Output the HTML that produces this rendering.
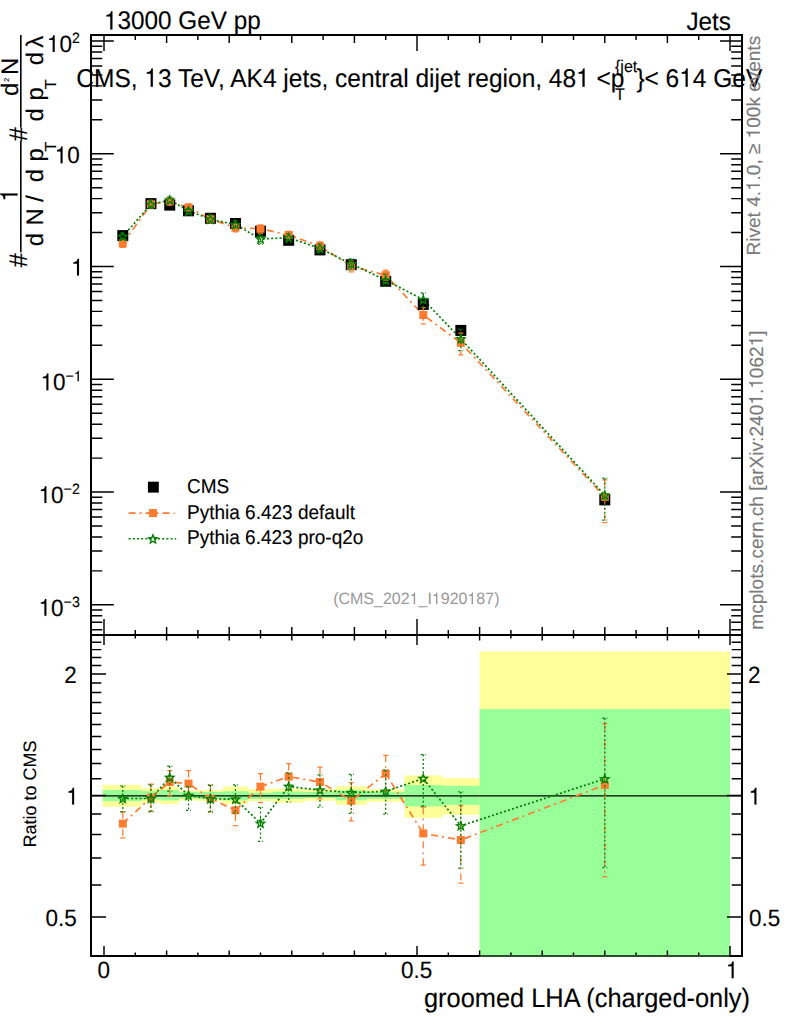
<!DOCTYPE html><html><head><meta charset="utf-8"><style>html,body{margin:0;padding:0;background:#fff;width:786px;height:1024px;overflow:hidden;position:relative}</style></head><body><svg width="786" height="1024" viewBox="0 0 786 1024" style="position:absolute;left:0;top:0" text-rendering="geometricPrecision">
<rect x="0" y="0" width="786" height="1024" fill="#fff"/>
<rect x="102.60" y="784.80" width="38.96" height="22.00" fill="#ffff99"/>
<rect x="141.56" y="788.20" width="18.78" height="14.50" fill="#ffff99"/>
<rect x="160.34" y="786.60" width="18.78" height="17.60" fill="#ffff99"/>
<rect x="179.12" y="790.50" width="18.78" height="9.90" fill="#ffff99"/>
<rect x="197.90" y="790.00" width="25.04" height="11.10" fill="#ffff99"/>
<rect x="222.94" y="786.60" width="25.04" height="17.60" fill="#ffff99"/>
<rect x="247.98" y="789.00" width="25.04" height="12.10" fill="#ffff99"/>
<rect x="273.02" y="788.50" width="31.30" height="14.10" fill="#ffff99"/>
<rect x="304.32" y="789.20" width="31.30" height="11.60" fill="#ffff99"/>
<rect x="335.62" y="786.10" width="31.30" height="18.80" fill="#ffff99"/>
<rect x="366.92" y="789.20" width="37.56" height="12.60" fill="#ffff99"/>
<rect x="404.48" y="775.40" width="37.56" height="42.50" fill="#ffff99"/>
<rect x="442.04" y="778.20" width="37.56" height="36.60" fill="#ffff99"/>
<rect x="479.60" y="651.60" width="250.40" height="304.40" fill="#ffff99"/>
<rect x="102.60" y="790.00" width="38.96" height="11.10" fill="#99ff99"/>
<rect x="141.56" y="791.20" width="18.78" height="8.40" fill="#99ff99"/>
<rect x="160.34" y="790.00" width="18.78" height="10.40" fill="#99ff99"/>
<rect x="179.12" y="792.00" width="18.78" height="6.50" fill="#99ff99"/>
<rect x="197.90" y="792.00" width="25.04" height="6.90" fill="#99ff99"/>
<rect x="222.94" y="791.20" width="25.04" height="9.20" fill="#99ff99"/>
<rect x="247.98" y="792.70" width="25.04" height="6.20" fill="#99ff99"/>
<rect x="273.02" y="791.60" width="31.30" height="7.20" fill="#99ff99"/>
<rect x="304.32" y="791.90" width="31.30" height="6.10" fill="#99ff99"/>
<rect x="335.62" y="790.40" width="31.30" height="9.90" fill="#99ff99"/>
<rect x="366.92" y="791.90" width="37.56" height="6.90" fill="#99ff99"/>
<rect x="404.48" y="785.00" width="37.56" height="21.40" fill="#99ff99"/>
<rect x="442.04" y="785.80" width="37.56" height="19.10" fill="#99ff99"/>
<rect x="479.60" y="709.00" width="250.40" height="247.00" fill="#99ff99"/>
<line x1="91.0" y1="795.9" x2="742.0" y2="795.9" stroke="#000" stroke-width="1.2"/>
<rect x="91.0" y="35.0" width="651.0" height="600.0" fill="none" stroke="#000" stroke-width="2"/>
<rect x="91.0" y="635.0" width="651.0" height="321.0" fill="none" stroke="#000" stroke-width="2"/>
<rect x="479.60" y="955" width="249.80" height="2" fill="#99ff99" fill-opacity="0.3"/>
<path d="M92.00 629.82L102.30 629.82M741.00 629.82L731.20 629.82M92.00 622.27L102.30 622.27M741.00 622.27L731.20 622.27M92.00 615.73L102.30 615.73M741.00 615.73L731.20 615.73M92.00 609.96L102.30 609.96M741.00 609.96L731.20 609.96M92.00 604.80L113.80 604.80M741.00 604.80L720.00 604.80M92.00 570.86L102.30 570.86M741.00 570.86L731.20 570.86M92.00 551.00L102.30 551.00M741.00 551.00L731.20 551.00M92.00 536.91L102.30 536.91M741.00 536.91L731.20 536.91M92.00 525.98L102.30 525.98M741.00 525.98L731.20 525.98M92.00 517.06L102.30 517.06M741.00 517.06L731.20 517.06M92.00 509.51L102.30 509.51M741.00 509.51L731.20 509.51M92.00 502.97L102.30 502.97M741.00 502.97L731.20 502.97M92.00 497.20L102.30 497.20M741.00 497.20L731.20 497.20M92.00 492.04L113.80 492.04M741.00 492.04L720.00 492.04M92.00 458.10L102.30 458.10M741.00 458.10L731.20 458.10M92.00 438.24L102.30 438.24M741.00 438.24L731.20 438.24M92.00 424.15L102.30 424.15M741.00 424.15L731.20 424.15M92.00 413.22L102.30 413.22M741.00 413.22L731.20 413.22M92.00 404.30L102.30 404.30M741.00 404.30L731.20 404.30M92.00 396.75L102.30 396.75M741.00 396.75L731.20 396.75M92.00 390.21L102.30 390.21M741.00 390.21L731.20 390.21M92.00 384.44L102.30 384.44M741.00 384.44L731.20 384.44M92.00 379.28L113.80 379.28M741.00 379.28L720.00 379.28M92.00 345.34L102.30 345.34M741.00 345.34L731.20 345.34M92.00 325.48L102.30 325.48M741.00 325.48L731.20 325.48M92.00 311.39L102.30 311.39M741.00 311.39L731.20 311.39M92.00 300.46L102.30 300.46M741.00 300.46L731.20 300.46M92.00 291.54L102.30 291.54M741.00 291.54L731.20 291.54M92.00 283.99L102.30 283.99M741.00 283.99L731.20 283.99M92.00 277.45L102.30 277.45M741.00 277.45L731.20 277.45M92.00 271.68L102.30 271.68M741.00 271.68L731.20 271.68M92.00 266.52L113.80 266.52M741.00 266.52L720.00 266.52M92.00 232.58L102.30 232.58M741.00 232.58L731.20 232.58M92.00 212.72L102.30 212.72M741.00 212.72L731.20 212.72M92.00 198.63L102.30 198.63M741.00 198.63L731.20 198.63M92.00 187.70L102.30 187.70M741.00 187.70L731.20 187.70M92.00 178.78L102.30 178.78M741.00 178.78L731.20 178.78M92.00 171.23L102.30 171.23M741.00 171.23L731.20 171.23M92.00 164.69L102.30 164.69M741.00 164.69L731.20 164.69M92.00 158.92L102.30 158.92M741.00 158.92L731.20 158.92M92.00 153.76L113.80 153.76M741.00 153.76L720.00 153.76M92.00 119.82L102.30 119.82M741.00 119.82L731.20 119.82M92.00 99.96L102.30 99.96M741.00 99.96L731.20 99.96M92.00 85.87L102.30 85.87M741.00 85.87L731.20 85.87M92.00 74.94L102.30 74.94M741.00 74.94L731.20 74.94M92.00 66.02L102.30 66.02M741.00 66.02L731.20 66.02M92.00 58.47L102.30 58.47M741.00 58.47L731.20 58.47M92.00 51.93L102.30 51.93M741.00 51.93L731.20 51.93M92.00 46.16L102.30 46.16M741.00 46.16L731.20 46.16M92.00 41.00L113.80 41.00M741.00 41.00L720.00 41.00M92.00 955.99L101.30 955.99M741.00 955.99L731.70 955.99M92.00 916.91L106.00 916.91M741.00 916.91L727.00 916.91M92.00 884.97L101.30 884.97M741.00 884.97L731.70 884.97M92.00 857.97L101.30 857.97M741.00 857.97L731.70 857.97M92.00 834.58L101.30 834.58M741.00 834.58L731.70 834.58M92.00 813.95L101.30 813.95M741.00 813.95L731.70 813.95M92.00 795.50L106.00 795.50M741.00 795.50L727.00 795.50M92.00 778.81L101.30 778.81M741.00 778.81L731.70 778.81M92.00 763.57L101.30 763.57M741.00 763.57L731.70 763.57M92.00 749.55L101.30 749.55M741.00 749.55L731.70 749.55M92.00 736.57L101.30 736.57M741.00 736.57L731.70 736.57M92.00 724.48L101.30 724.48M741.00 724.48L731.70 724.48M92.00 713.18L101.30 713.18M741.00 713.18L731.70 713.18M92.00 702.56L101.30 702.56M741.00 702.56L731.70 702.56M92.00 692.55L101.30 692.55M741.00 692.55L731.70 692.55M92.00 683.08L101.30 683.08M741.00 683.08L731.70 683.08M92.00 674.09L106.00 674.09M741.00 674.09L727.00 674.09M92.00 665.55L101.30 665.55M741.00 665.55L731.70 665.55M92.00 657.40L101.30 657.40M741.00 657.40L731.70 657.40M92.00 649.62L101.30 649.62M741.00 649.62L731.70 649.62M92.00 642.16L101.30 642.16M741.00 642.16L731.70 642.16M92.00 635.01L101.30 635.01M741.00 635.01L731.70 635.01M104.00 36.00L104.00 51.00M104.00 634.00L104.00 619.00M104.00 636.00L104.00 645.00M104.00 955.00L104.00 946.00M135.30 36.00L135.30 40.00M135.30 634.00L135.30 630.00M135.30 636.00L135.30 638.50M135.30 955.00L135.30 952.50M166.60 36.00L166.60 43.00M166.60 634.00L166.60 627.00M166.60 636.00L166.60 640.50M166.60 955.00L166.60 950.50M197.90 36.00L197.90 40.00M197.90 634.00L197.90 630.00M197.90 636.00L197.90 638.50M197.90 955.00L197.90 952.50M229.20 36.00L229.20 43.00M229.20 634.00L229.20 627.00M229.20 636.00L229.20 640.50M229.20 955.00L229.20 950.50M260.50 36.00L260.50 40.00M260.50 634.00L260.50 630.00M260.50 636.00L260.50 638.50M260.50 955.00L260.50 952.50M291.80 36.00L291.80 43.00M291.80 634.00L291.80 627.00M291.80 636.00L291.80 640.50M291.80 955.00L291.80 950.50M323.10 36.00L323.10 40.00M323.10 634.00L323.10 630.00M323.10 636.00L323.10 638.50M323.10 955.00L323.10 952.50M354.40 36.00L354.40 43.00M354.40 634.00L354.40 627.00M354.40 636.00L354.40 640.50M354.40 955.00L354.40 950.50M385.70 36.00L385.70 40.00M385.70 634.00L385.70 630.00M385.70 636.00L385.70 638.50M385.70 955.00L385.70 952.50M417.00 36.00L417.00 51.00M417.00 634.00L417.00 619.00M417.00 636.00L417.00 645.00M417.00 955.00L417.00 946.00M448.30 36.00L448.30 40.00M448.30 634.00L448.30 630.00M448.30 636.00L448.30 638.50M448.30 955.00L448.30 952.50M479.60 36.00L479.60 43.00M479.60 634.00L479.60 627.00M479.60 636.00L479.60 640.50M479.60 955.00L479.60 950.50M510.90 36.00L510.90 40.00M510.90 634.00L510.90 630.00M510.90 636.00L510.90 638.50M510.90 955.00L510.90 952.50M542.20 36.00L542.20 43.00M542.20 634.00L542.20 627.00M542.20 636.00L542.20 640.50M542.20 955.00L542.20 950.50M573.50 36.00L573.50 40.00M573.50 634.00L573.50 630.00M573.50 636.00L573.50 638.50M573.50 955.00L573.50 952.50M604.80 36.00L604.80 43.00M604.80 634.00L604.80 627.00M604.80 636.00L604.80 640.50M604.80 955.00L604.80 950.50M636.10 36.00L636.10 40.00M636.10 634.00L636.10 630.00M636.10 636.00L636.10 638.50M636.10 955.00L636.10 952.50M667.40 36.00L667.40 43.00M667.40 634.00L667.40 627.00M667.40 636.00L667.40 640.50M667.40 955.00L667.40 950.50M698.70 36.00L698.70 40.00M698.70 634.00L698.70 630.00M698.70 636.00L698.70 638.50M698.70 955.00L698.70 952.50M730.00 36.00L730.00 51.00M730.00 634.00L730.00 619.00M730.00 636.00L730.00 645.00M730.00 955.00L730.00 946.00" stroke="#000" stroke-width="1.45" fill="none"/>
<path d="M347 0V709H289C258 600 238 585 102 568V505H259V0Z" transform="translate(71.19,275.62) scale(0.02250,-0.02363)" fill="#000" stroke="#000" stroke-width="5.33"/>
<path d="M347 0V709H289C258 600 238 585 102 568V505H259V0Z" transform="translate(54.77,163.36) scale(0.02250,-0.02363)" fill="#000" stroke="#000" stroke-width="5.33"/>
<text transform="translate(67.29,163.36) scale(1,1.05)" font-family="&apos;Liberation Sans&apos;, sans-serif" font-size="22.5" stroke="#000" stroke-width="0.12">0</text>
<path d="M347 0V709H289C258 600 238 585 102 568V505H259V0Z" transform="translate(46.88,52.00) scale(0.02250,-0.02363)" fill="#000" stroke="#000" stroke-width="5.33"/>
<text transform="translate(59.39,52.00) scale(1,1.05)" font-family="&apos;Liberation Sans&apos;, sans-serif" font-size="22.5" stroke="#000" stroke-width="0.12">0</text>
<text transform="translate(71.90,43.00) scale(1,1.05)" font-family="&apos;Liberation Sans&apos;, sans-serif" font-size="14.2" stroke="#000" stroke-width="0.12">2</text>
<path d="M347 0V709H289C258 600 238 585 102 568V505H259V0Z" transform="translate(40.58,390.28) scale(0.02250,-0.02363)" fill="#000" stroke="#000" stroke-width="5.33"/>
<text transform="translate(53.10,390.28) scale(1,1.05)" font-family="&apos;Liberation Sans&apos;, sans-serif" font-size="22.5" stroke="#000" stroke-width="0.12">0</text>
<text transform="translate(65.61,381.28) scale(1,1.05)" font-family="&apos;Liberation Sans&apos;, sans-serif" font-size="14.2" stroke="#000" stroke-width="0.12">−</text>
<path d="M347 0V709H289C258 600 238 585 102 568V505H259V0Z" transform="translate(73.90,381.28) scale(0.01420,-0.01491)" fill="#000" stroke="#000" stroke-width="8.45"/>
<path d="M347 0V709H289C258 600 238 585 102 568V505H259V0Z" transform="translate(38.58,503.04) scale(0.02250,-0.02363)" fill="#000" stroke="#000" stroke-width="5.33"/>
<text transform="translate(51.10,503.04) scale(1,1.05)" font-family="&apos;Liberation Sans&apos;, sans-serif" font-size="22.5" stroke="#000" stroke-width="0.12">0</text>
<text transform="translate(63.61,494.04) scale(1,1.05)" font-family="&apos;Liberation Sans&apos;, sans-serif" font-size="14.2" stroke="#000" stroke-width="0.12">−</text>
<text transform="translate(71.90,494.04) scale(1,1.05)" font-family="&apos;Liberation Sans&apos;, sans-serif" font-size="14.2" stroke="#000" stroke-width="0.12">2</text>
<path d="M347 0V709H289C258 600 238 585 102 568V505H259V0Z" transform="translate(38.58,615.80) scale(0.02250,-0.02363)" fill="#000" stroke="#000" stroke-width="5.33"/>
<text transform="translate(51.10,615.80) scale(1,1.05)" font-family="&apos;Liberation Sans&apos;, sans-serif" font-size="22.5" stroke="#000" stroke-width="0.12">0</text>
<text transform="translate(63.61,606.80) scale(1,1.05)" font-family="&apos;Liberation Sans&apos;, sans-serif" font-size="14.2" stroke="#000" stroke-width="0.12">−</text>
<text transform="translate(71.90,606.80) scale(1,1.05)" font-family="&apos;Liberation Sans&apos;, sans-serif" font-size="14.2" stroke="#000" stroke-width="0.12">3</text>
<text transform="translate(64.29,683.19) scale(1,1.05)" font-family="&apos;Liberation Sans&apos;, sans-serif" font-size="22.5" stroke="#000" stroke-width="0.12">2</text>
<text transform="translate(748.10,683.19) scale(1,1.05)" font-family="&apos;Liberation Sans&apos;, sans-serif" font-size="22.5" stroke="#000" stroke-width="0.12">2</text>
<path d="M347 0V709H289C258 600 238 585 102 568V505H259V0Z" transform="translate(66.29,804.60) scale(0.02250,-0.02363)" fill="#000" stroke="#000" stroke-width="5.33"/>
<path d="M347 0V709H289C258 600 238 585 102 568V505H259V0Z" transform="translate(748.60,804.60) scale(0.02250,-0.02363)" fill="#000" stroke="#000" stroke-width="5.33"/>
<text transform="translate(45.52,926.01) scale(1,1.05)" font-family="&apos;Liberation Sans&apos;, sans-serif" font-size="22.5" stroke="#000" stroke-width="0.12">0</text>
<text transform="translate(58.04,926.01) scale(1,1.05)" font-family="&apos;Liberation Sans&apos;, sans-serif" font-size="22.5" stroke="#000" stroke-width="0.12">.</text>
<text transform="translate(64.29,926.01) scale(1,1.05)" font-family="&apos;Liberation Sans&apos;, sans-serif" font-size="22.5" stroke="#000" stroke-width="0.12">5</text>
<text transform="translate(749.10,926.01) scale(1,1.05)" font-family="&apos;Liberation Sans&apos;, sans-serif" font-size="22.5" stroke="#000" stroke-width="0.12">0</text>
<text transform="translate(761.61,926.01) scale(1,1.05)" font-family="&apos;Liberation Sans&apos;, sans-serif" font-size="22.5" stroke="#000" stroke-width="0.12">.</text>
<text transform="translate(767.86,926.01) scale(1,1.05)" font-family="&apos;Liberation Sans&apos;, sans-serif" font-size="22.5" stroke="#000" stroke-width="0.12">5</text>
<text transform="translate(97.44,978.20) scale(1,1.05)" font-family="&apos;Liberation Sans&apos;, sans-serif" font-size="22.5" stroke="#000" stroke-width="0.12">0</text>
<text transform="translate(401.06,978.20) scale(1,1.05)" font-family="&apos;Liberation Sans&apos;, sans-serif" font-size="22.5" stroke="#000" stroke-width="0.12">0</text>
<text transform="translate(413.57,978.20) scale(1,1.05)" font-family="&apos;Liberation Sans&apos;, sans-serif" font-size="22.5" stroke="#000" stroke-width="0.12">.</text>
<text transform="translate(419.83,978.20) scale(1,1.05)" font-family="&apos;Liberation Sans&apos;, sans-serif" font-size="22.5" stroke="#000" stroke-width="0.12">5</text>
<path d="M347 0V709H289C258 600 238 585 102 568V505H259V0Z" transform="translate(725.84,978.20) scale(0.02250,-0.02363)" fill="#000" stroke="#000" stroke-width="5.33"/>
<text transform="translate(750.00,1007.40) scale(1,1.05)" font-family="&apos;Liberation Sans&apos;, sans-serif" font-size="25.4" text-anchor="end" fill="#000" stroke="#000" stroke-width="0.12">groomed LHA (charged-only)</text>
<text font-family="&apos;Liberation Sans&apos;, sans-serif" font-size="18" text-anchor="middle" stroke="#000" stroke-width="0.12" transform="translate(36,794) rotate(-90)">Ratio to CMS</text>
<g transform="translate(104.00,29.40) scale(1,1.05)"><text x="0" y="0" font-family="&apos;Liberation Sans&apos;, sans-serif" font-size="24.3" text-anchor="start" fill="#000" stroke="#000" stroke-width="0.12">&#x2007;3000 GeV pp</text><path d="M347 0V709H289C258 600 238 585 102 568V505H259V0Z" transform="translate(0.00,0) scale(0.02430,-0.02430)" fill="#000" stroke="#000" stroke-width="4.94"/></g>
<text transform="translate(731.00,29.60) scale(1,1.05)" font-family="&apos;Liberation Sans&apos;, sans-serif" font-size="24.3" text-anchor="end" fill="#000" stroke="#000" stroke-width="0.12">Jets</text>
<g transform="translate(76.30,86.80) scale(1,1.05)"><text x="0" y="0" font-family="&apos;Liberation Sans&apos;, sans-serif" font-size="24.5" text-anchor="start" fill="#000" stroke="#000" stroke-width="0.12">CMS, &#x2007;3 TeV, AK4 jets, central dijet region, 48&#x2007; &lt;p</text><path d="M347 0V709H289C258 600 238 585 102 568V505H259V0Z" transform="translate(68.05,0) scale(0.02450,-0.02450)" fill="#000" stroke="#000" stroke-width="4.90"/><path d="M347 0V709H289C258 600 238 585 102 568V505H259V0Z" transform="translate(499.81,0) scale(0.02450,-0.02450)" fill="#000" stroke="#000" stroke-width="4.90"/></g>
<text transform="translate(615.00,99.60) scale(1,1.05)" font-family="&apos;Liberation Sans&apos;, sans-serif" font-size="16" text-anchor="start" fill="#000" stroke="#000" stroke-width="0.12">T</text>
<text transform="translate(615.00,72.20) scale(1,1.05)" font-family="&apos;Liberation Sans&apos;, sans-serif" font-size="16" text-anchor="start" fill="#000" stroke="#000" stroke-width="0.12">{jet</text>
<text transform="translate(636.50,86.80) scale(1,1.05)" font-family="&apos;Liberation Sans&apos;, sans-serif" font-size="24.5" text-anchor="start" fill="#000" stroke="#000" stroke-width="0.12">}</text>
<g transform="translate(644.50,86.80) scale(1,1.05)"><text x="0" y="0" font-family="&apos;Liberation Sans&apos;, sans-serif" font-size="24.5" text-anchor="start" fill="#000" stroke="#000" stroke-width="0.12">&lt; 6&#x2007;4 GeV</text><path d="M347 0V709H289C258 600 238 585 102 568V505H259V0Z" transform="translate(34.73,0) scale(0.02450,-0.02450)" fill="#000" stroke="#000" stroke-width="4.90"/></g>
<g transform="translate(759.8,255.4) rotate(-90)"><text x="0" y="0" font-family="&apos;Liberation Sans&apos;, sans-serif" font-size="19" text-anchor="start" fill="#7a7a7a" stroke="#7a7a7a" stroke-width="0.12">Rivet 4.&#x2007;.0, ≥ &#x2007;00k events</text><path d="M347 0V709H289C258 600 238 585 102 568V505H259V0Z" transform="translate(64.41,0) scale(0.01900,-0.01900)" fill="#7a7a7a" stroke="#7a7a7a" stroke-width="6.32"/><path d="M347 0V709H289C258 600 238 585 102 568V505H259V0Z" transform="translate(117.08,0) scale(0.01900,-0.01900)" fill="#7a7a7a" stroke="#7a7a7a" stroke-width="6.32"/></g>
<g transform="translate(762.5,330.4) rotate(-90)"><text x="0" y="0" font-family="&apos;Liberation Sans&apos;, sans-serif" font-size="19.1" text-anchor="end" fill="#7a7a7a" stroke="#7a7a7a" stroke-width="0.12">mcplots.cern.ch [arXiv:240&#x2007;.&#x2007;062&#x2007;]</text><path d="M347 0V709H289C258 600 238 585 102 568V505H259V0Z" transform="translate(-74.34,0) scale(0.01910,-0.01910)" fill="#7a7a7a" stroke="#7a7a7a" stroke-width="6.28"/><path d="M347 0V709H289C258 600 238 585 102 568V505H259V0Z" transform="translate(-58.42,0) scale(0.01910,-0.01910)" fill="#7a7a7a" stroke="#7a7a7a" stroke-width="6.28"/><path d="M347 0V709H289C258 600 238 585 102 568V505H259V0Z" transform="translate(-15.94,0) scale(0.01910,-0.01910)" fill="#7a7a7a" stroke="#7a7a7a" stroke-width="6.28"/></g>
<g transform="translate(416.30,604.30) scale(1,1.03)"><text x="0" y="0" font-family="&apos;Liberation Sans&apos;, sans-serif" font-size="16" text-anchor="middle" fill="#999">(CMS_202&#x2007;_I&#x2007;920&#x2007;87)</text><path d="M347 0V709H289C258 600 238 585 102 568V505H259V0Z" transform="translate(-6.70,0) scale(0.01600,-0.01600)" fill="#999"/><path d="M347 0V709H289C258 600 238 585 102 568V505H259V0Z" transform="translate(15.55,0) scale(0.01600,-0.01600)" fill="#999"/><path d="M347 0V709H289C258 600 238 585 102 568V505H259V0Z" transform="translate(51.14,0) scale(0.01600,-0.01600)" fill="#999"/></g>
<g transform="translate(0,270) rotate(-90)" font-family="&apos;Liberation Sans&apos;, sans-serif" stroke="#000" stroke-width="0.12"><text x="9.80" y="27.40" font-size="25.5" text-anchor="middle">#</text><path d="M347 0V709H289C258 600 238 585 102 568V505H259V0Z" transform="translate(68.23,17.6) scale(0.024,-0.0245)" stroke-width="5.00"/><text x="30.40" y="42.50" font-size="24" text-anchor="middle">d</text><text x="53.25" y="42.50" font-size="24" text-anchor="middle">N</text><text x="71.30" y="42.50" font-size="24" text-anchor="middle">/</text><text x="94.50" y="42.50" font-size="24" text-anchor="middle">d</text><text x="115.10" y="42.50" font-size="24" text-anchor="middle">p</text><text x="123.35" y="56.20" font-size="16" text-anchor="middle">T</text><text x="135.85" y="27.40" font-size="25.5" text-anchor="middle">#</text><text x="155.25" y="42.50" font-size="24" text-anchor="middle">d</text><text x="176.30" y="42.50" font-size="24" text-anchor="middle">p</text><text x="185.70" y="56.20" font-size="16" text-anchor="middle">T</text><text x="211.55" y="42.50" font-size="24" text-anchor="middle">d</text><text x="228.25" y="42.50" font-size="24" text-anchor="middle">λ</text><text x="180.65" y="18.40" font-size="24" text-anchor="middle">d</text><text x="190.20" y="8.80" font-size="7" text-anchor="middle">2</text><text x="203.80" y="18.40" font-size="24" text-anchor="middle">N</text><line x1="17.7" y1="20.8" x2="129.0" y2="20.8" stroke="#000" stroke-width="1.6"/><line x1="142.5" y1="20.8" x2="235.0" y2="20.8" stroke="#000" stroke-width="1.6"/></g>
<path d="M122.78,243.46L150.95,204.16L169.73,201.33L188.51,207.47L210.42,219.14L235.46,227.64L260.50,228.71L288.67,235.02L319.97,246.13L351.27,266.18L385.70,275.18L423.26,315.00L460.82,342.84L604.80,496.96" fill="none" stroke="#ff7b30" stroke-width="1.7" stroke-dasharray="7 4 2 4"/>
<path d="M122.78,823.60L150.95,797.50L169.73,782.00L188.51,783.60L210.42,798.50L235.46,810.30L260.50,786.60L288.67,776.60L319.97,782.00L351.27,800.80L385.70,773.60L423.26,833.40L460.82,840.00L604.80,785.00" fill="none" stroke="#ff7b30" stroke-width="1.7" stroke-dasharray="7 4 2 4"/>
<path d="M122.78,236.44L150.95,204.44L169.73,200.07L188.51,210.80L210.42,219.25L235.46,224.53L260.50,238.97L288.67,237.78L319.97,248.39L351.27,263.92L385.70,280.15L423.26,299.65L460.82,338.87L604.80,495.23" fill="none" stroke="#007f00" stroke-width="1.7" stroke-dasharray="2 2.2"/>
<path d="M122.78,798.50L150.95,798.50L169.73,777.50L188.51,795.50L210.42,798.90L235.46,799.20L260.50,823.30L288.67,786.50L319.97,790.10L351.27,792.70L385.70,791.40L423.26,778.50L460.82,825.80L604.80,778.80" fill="none" stroke="#007f00" stroke-width="1.7" stroke-dasharray="2 2.2"/>
<rect x="117.28" y="230.10" width="11" height="11" fill="#000"/>
<rect x="145.45" y="198.10" width="11" height="11" fill="#000"/>
<rect x="164.23" y="199.60" width="11" height="11" fill="#000"/>
<rect x="183.01" y="205.30" width="11" height="11" fill="#000"/>
<rect x="204.92" y="212.80" width="11" height="11" fill="#000"/>
<rect x="229.96" y="218.00" width="11" height="11" fill="#000"/>
<rect x="255.00" y="225.70" width="11" height="11" fill="#000"/>
<rect x="283.17" y="234.80" width="11" height="11" fill="#000"/>
<rect x="314.47" y="244.40" width="11" height="11" fill="#000"/>
<rect x="345.77" y="259.20" width="11" height="11" fill="#000"/>
<rect x="380.20" y="275.80" width="11" height="11" fill="#000"/>
<rect x="417.76" y="298.90" width="11" height="11" fill="#000"/>
<rect x="455.32" y="324.90" width="11" height="11" fill="#000"/>
<rect x="599.30" y="494.40" width="11" height="11" fill="#000"/>
<path d="M122.78 240.16L122.78 247.43M120.28 240.16L125.28 240.16M120.28 247.43L125.28 247.43" stroke="#ff7b30" stroke-width="1.25" fill="none" stroke-dasharray="7 4 2 4"/>
<path d="M150.95 200.38L150.95 207.93M148.45 200.38L153.45 200.38M148.45 207.93L153.45 207.93" stroke="#ff7b30" stroke-width="1.25" fill="none" stroke-dasharray="7 4 2 4"/>
<path d="M169.73 198.14L169.73 205.18M167.23 198.14L172.23 198.14M167.23 205.18L172.23 205.18" stroke="#ff7b30" stroke-width="1.25" fill="none" stroke-dasharray="7 4 2 4"/>
<path d="M188.51 203.84L188.51 210.66M186.01 203.84L191.01 203.84M186.01 210.66L191.01 210.66" stroke="#ff7b30" stroke-width="1.25" fill="none" stroke-dasharray="7 4 2 4"/>
<path d="M210.42 215.36L210.42 222.86M207.92 215.36L212.92 215.36M207.92 222.86L212.92 222.86" stroke="#ff7b30" stroke-width="1.25" fill="none" stroke-dasharray="7 4 2 4"/>
<path d="M235.46 223.92L235.46 231.92M232.96 223.92L237.96 223.92M232.96 231.92L237.96 231.92" stroke="#ff7b30" stroke-width="1.25" fill="none" stroke-dasharray="7 4 2 4"/>
<path d="M260.50 225.10L260.50 233.21M258.00 225.10L263.00 225.10M258.00 233.21L263.00 233.21" stroke="#ff7b30" stroke-width="1.25" fill="none" stroke-dasharray="7 4 2 4"/>
<path d="M288.67 231.35L288.67 238.76M286.17 231.35L291.17 231.35M286.17 238.76L291.17 238.76" stroke="#ff7b30" stroke-width="1.25" fill="none" stroke-dasharray="7 4 2 4"/>
<path d="M319.97 241.99L319.97 250.82M317.47 241.99L322.47 241.99M317.47 250.82L322.47 250.82" stroke="#ff7b30" stroke-width="1.25" fill="none" stroke-dasharray="7 4 2 4"/>
<path d="M351.27 261.12L351.27 271.80M348.77 261.12L353.77 261.12M348.77 271.80L353.77 271.80" stroke="#ff7b30" stroke-width="1.25" fill="none" stroke-dasharray="7 4 2 4"/>
<path d="M385.70 270.06L385.70 280.04M383.20 270.06L388.20 270.06M383.20 280.04L388.20 280.04" stroke="#ff7b30" stroke-width="1.25" fill="none" stroke-dasharray="7 4 2 4"/>
<path d="M423.26 307.67L423.26 323.89M420.76 307.67L425.76 307.67M420.76 323.89L425.76 323.89" stroke="#ff7b30" stroke-width="1.25" fill="none" stroke-dasharray="7 4 2 4"/>
<path d="M460.82 333.22L460.82 354.92M458.32 333.22L463.32 333.22M458.32 354.92L463.32 354.92" stroke="#ff7b30" stroke-width="1.25" fill="none" stroke-dasharray="7 4 2 4"/>
<path d="M604.80 479.83L604.80 522.55M602.30 479.83L607.30 479.83M602.30 522.55L607.30 522.55" stroke="#ff7b30" stroke-width="1.25" fill="none" stroke-dasharray="7 4 2 4"/>
<path d="M122.78 811.80L122.78 837.80M120.28 811.80L125.28 811.80M120.28 837.80L125.28 837.80" stroke="#ff7b30" stroke-width="1.25" fill="none" stroke-dasharray="7 4 2 4"/>
<path d="M150.95 784.00L150.95 811.00M148.45 784.00L153.45 784.00M148.45 811.00L153.45 811.00" stroke="#ff7b30" stroke-width="1.25" fill="none" stroke-dasharray="7 4 2 4"/>
<path d="M169.73 770.60L169.73 795.80M167.23 770.60L172.23 770.60M167.23 795.80L172.23 795.80" stroke="#ff7b30" stroke-width="1.25" fill="none" stroke-dasharray="7 4 2 4"/>
<path d="M188.51 770.60L188.51 795.00M186.01 770.60L191.01 770.60M186.01 795.00L191.01 795.00" stroke="#ff7b30" stroke-width="1.25" fill="none" stroke-dasharray="7 4 2 4"/>
<path d="M210.42 785.00L210.42 811.80M207.92 785.00L212.92 785.00M207.92 811.80L212.92 811.80" stroke="#ff7b30" stroke-width="1.25" fill="none" stroke-dasharray="7 4 2 4"/>
<path d="M235.46 797.00L235.46 825.60M232.96 797.00L237.96 797.00M232.96 825.60L237.96 825.60" stroke="#ff7b30" stroke-width="1.25" fill="none" stroke-dasharray="7 4 2 4"/>
<path d="M260.50 773.70L260.50 802.70M258.00 773.70L263.00 773.70M258.00 802.70L263.00 802.70" stroke="#ff7b30" stroke-width="1.25" fill="none" stroke-dasharray="7 4 2 4"/>
<path d="M288.67 763.50L288.67 790.00M286.17 763.50L291.17 763.50M286.17 790.00L291.17 790.00" stroke="#ff7b30" stroke-width="1.25" fill="none" stroke-dasharray="7 4 2 4"/>
<path d="M319.97 767.20L319.97 798.80M317.47 767.20L322.47 767.20M317.47 798.80L322.47 798.80" stroke="#ff7b30" stroke-width="1.25" fill="none" stroke-dasharray="7 4 2 4"/>
<path d="M351.27 782.70L351.27 820.90M348.77 782.70L353.77 782.70M348.77 820.90L353.77 820.90" stroke="#ff7b30" stroke-width="1.25" fill="none" stroke-dasharray="7 4 2 4"/>
<path d="M385.70 755.30L385.70 791.00M383.20 755.30L388.20 755.30M383.20 791.00L388.20 791.00" stroke="#ff7b30" stroke-width="1.25" fill="none" stroke-dasharray="7 4 2 4"/>
<path d="M423.26 807.20L423.26 865.20M420.76 807.20L425.76 807.20M420.76 865.20L425.76 865.20" stroke="#ff7b30" stroke-width="1.25" fill="none" stroke-dasharray="7 4 2 4"/>
<path d="M460.82 805.60L460.82 883.20M458.32 805.60L463.32 805.60M458.32 883.20L463.32 883.20" stroke="#ff7b30" stroke-width="1.25" fill="none" stroke-dasharray="7 4 2 4"/>
<path d="M604.80 723.70L604.80 876.50M602.30 723.70L607.30 723.70M602.30 876.50L607.30 876.50" stroke="#ff7b30" stroke-width="1.25" fill="none" stroke-dasharray="7 4 2 4"/>
<rect x="118.78" y="239.46" width="8" height="8" fill="#ff7b30"/>
<rect x="146.95" y="200.16" width="8" height="8" fill="#ff7b30"/>
<rect x="165.73" y="197.33" width="8" height="8" fill="#ff7b30"/>
<rect x="184.51" y="203.47" width="8" height="8" fill="#ff7b30"/>
<rect x="206.42" y="215.14" width="8" height="8" fill="#ff7b30"/>
<rect x="231.46" y="223.64" width="8" height="8" fill="#ff7b30"/>
<rect x="256.50" y="224.71" width="8" height="8" fill="#ff7b30"/>
<rect x="284.67" y="231.02" width="8" height="8" fill="#ff7b30"/>
<rect x="315.97" y="242.13" width="8" height="8" fill="#ff7b30"/>
<rect x="347.27" y="262.18" width="8" height="8" fill="#ff7b30"/>
<rect x="381.70" y="271.18" width="8" height="8" fill="#ff7b30"/>
<rect x="419.26" y="311.00" width="8" height="8" fill="#ff7b30"/>
<rect x="456.82" y="338.84" width="8" height="8" fill="#ff7b30"/>
<rect x="600.80" y="492.96" width="8" height="8" fill="#ff7b30"/>
<rect x="118.78" y="819.60" width="8" height="8" fill="#ff7b30"/>
<rect x="146.95" y="793.50" width="8" height="8" fill="#ff7b30"/>
<rect x="165.73" y="778.00" width="8" height="8" fill="#ff7b30"/>
<rect x="184.51" y="779.60" width="8" height="8" fill="#ff7b30"/>
<rect x="206.42" y="794.50" width="8" height="8" fill="#ff7b30"/>
<rect x="231.46" y="806.30" width="8" height="8" fill="#ff7b30"/>
<rect x="256.50" y="782.60" width="8" height="8" fill="#ff7b30"/>
<rect x="284.67" y="772.60" width="8" height="8" fill="#ff7b30"/>
<rect x="315.97" y="778.00" width="8" height="8" fill="#ff7b30"/>
<rect x="347.27" y="796.80" width="8" height="8" fill="#ff7b30"/>
<rect x="381.70" y="769.60" width="8" height="8" fill="#ff7b30"/>
<rect x="419.26" y="829.40" width="8" height="8" fill="#ff7b30"/>
<rect x="456.82" y="836.00" width="8" height="8" fill="#ff7b30"/>
<rect x="600.80" y="781.00" width="8" height="8" fill="#ff7b30"/>
<path d="M122.78 232.92L122.78 240.16M120.28 232.92L125.28 232.92M120.28 240.16L125.28 240.16" stroke="#007f00" stroke-width="1.25" fill="none" stroke-dasharray="2 2.2"/>
<path d="M150.95 200.61L150.95 208.16M148.45 200.61L153.45 200.61M148.45 208.16L153.45 208.16" stroke="#007f00" stroke-width="1.25" fill="none" stroke-dasharray="2 2.2"/>
<path d="M169.73 196.85L169.73 203.90M167.23 196.85L172.23 196.85M167.23 203.90L172.23 203.90" stroke="#007f00" stroke-width="1.25" fill="none" stroke-dasharray="2 2.2"/>
<path d="M188.51 208.31L188.51 214.94M186.01 208.31L191.01 208.31M186.01 214.94L191.01 214.94" stroke="#007f00" stroke-width="1.25" fill="none" stroke-dasharray="2 2.2"/>
<path d="M210.42 215.36L210.42 222.86M207.92 215.36L212.92 215.36M207.92 222.86L212.92 222.86" stroke="#007f00" stroke-width="1.25" fill="none" stroke-dasharray="2 2.2"/>
<path d="M235.46 220.51L235.46 228.39M232.96 220.51L237.96 220.51M232.96 228.39L237.96 228.39" stroke="#007f00" stroke-width="1.25" fill="none" stroke-dasharray="2 2.2"/>
<path d="M260.50 234.50L260.50 244.01M258.00 234.50L263.00 234.50M258.00 244.01L263.00 244.01" stroke="#007f00" stroke-width="1.25" fill="none" stroke-dasharray="2 2.2"/>
<path d="M288.67 233.95L288.67 242.06M286.17 233.95L291.17 233.95M286.17 242.06L291.17 242.06" stroke="#007f00" stroke-width="1.25" fill="none" stroke-dasharray="2 2.2"/>
<path d="M319.97 244.11L319.97 253.17M317.47 244.11L322.47 244.11M317.47 253.17L322.47 253.17" stroke="#007f00" stroke-width="1.25" fill="none" stroke-dasharray="2 2.2"/>
<path d="M351.27 258.80L351.27 269.68M348.77 258.80L353.77 258.80M348.77 269.68L353.77 269.68" stroke="#007f00" stroke-width="1.25" fill="none" stroke-dasharray="2 2.2"/>
<path d="M385.70 274.17L385.70 286.47M383.20 274.17L388.20 274.17M383.20 286.47L388.20 286.47" stroke="#007f00" stroke-width="1.25" fill="none" stroke-dasharray="2 2.2"/>
<path d="M423.26 292.94L423.26 307.45M420.76 292.94L425.76 292.94M420.76 307.45L425.76 307.45" stroke="#007f00" stroke-width="1.25" fill="none" stroke-dasharray="2 2.2"/>
<path d="M460.82 329.39L460.82 350.73M458.32 329.39L463.32 329.39M458.32 350.73L463.32 350.73" stroke="#007f00" stroke-width="1.25" fill="none" stroke-dasharray="2 2.2"/>
<path d="M604.80 478.23L604.80 520.09M602.30 478.23L607.30 478.23M602.30 520.09L607.30 520.09" stroke="#007f00" stroke-width="1.25" fill="none" stroke-dasharray="2 2.2"/>
<path d="M122.78 785.90L122.78 811.80M120.28 785.90L125.28 785.90M120.28 811.80L125.28 811.80" stroke="#007f00" stroke-width="1.25" fill="none" stroke-dasharray="2 2.2"/>
<path d="M150.95 784.80L150.95 811.80M148.45 784.80L153.45 784.80M148.45 811.80L153.45 811.80" stroke="#007f00" stroke-width="1.25" fill="none" stroke-dasharray="2 2.2"/>
<path d="M169.73 766.00L169.73 791.20M167.23 766.00L172.23 766.00M167.23 791.20L172.23 791.20" stroke="#007f00" stroke-width="1.25" fill="none" stroke-dasharray="2 2.2"/>
<path d="M188.51 786.60L188.51 810.30M186.01 786.60L191.01 786.60M186.01 810.30L191.01 810.30" stroke="#007f00" stroke-width="1.25" fill="none" stroke-dasharray="2 2.2"/>
<path d="M210.42 785.00L210.42 811.80M207.92 785.00L212.92 785.00M207.92 811.80L212.92 811.80" stroke="#007f00" stroke-width="1.25" fill="none" stroke-dasharray="2 2.2"/>
<path d="M235.46 784.80L235.46 813.00M232.96 784.80L237.96 784.80M232.96 813.00L237.96 813.00" stroke="#007f00" stroke-width="1.25" fill="none" stroke-dasharray="2 2.2"/>
<path d="M260.50 807.30L260.50 841.30M258.00 807.30L263.00 807.30M258.00 841.30L263.00 841.30" stroke="#007f00" stroke-width="1.25" fill="none" stroke-dasharray="2 2.2"/>
<path d="M288.67 772.80L288.67 801.80M286.17 772.80L291.17 772.80M286.17 801.80L291.17 801.80" stroke="#007f00" stroke-width="1.25" fill="none" stroke-dasharray="2 2.2"/>
<path d="M319.97 774.80L319.97 807.20M317.47 774.80L322.47 774.80M317.47 807.20L322.47 807.20" stroke="#007f00" stroke-width="1.25" fill="none" stroke-dasharray="2 2.2"/>
<path d="M351.27 774.40L351.27 813.30M348.77 774.40L353.77 774.40M348.77 813.30L353.77 813.30" stroke="#007f00" stroke-width="1.25" fill="none" stroke-dasharray="2 2.2"/>
<path d="M385.70 770.00L385.70 814.00M383.20 770.00L388.20 770.00M383.20 814.00L388.20 814.00" stroke="#007f00" stroke-width="1.25" fill="none" stroke-dasharray="2 2.2"/>
<path d="M423.26 754.50L423.26 806.40M420.76 754.50L425.76 754.50M420.76 806.40L425.76 806.40" stroke="#007f00" stroke-width="1.25" fill="none" stroke-dasharray="2 2.2"/>
<path d="M460.82 791.90L460.82 868.20M458.32 791.90L463.32 791.90M458.32 868.20L463.32 868.20" stroke="#007f00" stroke-width="1.25" fill="none" stroke-dasharray="2 2.2"/>
<path d="M604.80 718.00L604.80 867.70M602.30 718.00L607.30 718.00M602.30 867.70L607.30 867.70" stroke="#007f00" stroke-width="1.25" fill="none" stroke-dasharray="2 2.2"/>
<path d="M122.78,230.44L124.37,234.55L128.77,234.79L125.35,237.57L126.48,241.84L122.78,239.44L119.08,241.84L120.21,237.57L116.79,234.79L121.19,234.55ZM122.11,235.82L120.26,235.92L121.70,237.09L121.22,238.88L122.78,237.87L124.34,238.88L123.86,237.09L125.30,235.92L123.45,235.82L122.78,234.09Z" fill="#007f00" fill-rule="evenodd"/>
<path d="M150.95,198.44L152.54,202.55L156.94,202.79L153.52,205.57L154.65,209.84L150.95,207.44L147.25,209.84L148.38,205.57L144.96,202.79L149.36,202.55ZM150.28,203.82L148.43,203.92L149.87,205.09L149.39,206.88L150.95,205.87L152.51,206.88L152.03,205.09L153.47,203.92L151.62,203.82L150.95,202.09Z" fill="#007f00" fill-rule="evenodd"/>
<path d="M169.73,194.07L171.32,198.18L175.72,198.42L172.30,201.20L173.43,205.46L169.73,203.07L166.03,205.46L167.16,201.20L163.74,198.42L168.14,198.18ZM169.06,199.45L167.21,199.55L168.65,200.72L168.17,202.51L169.73,201.50L171.29,202.51L170.81,200.72L172.25,199.55L170.40,199.45L169.73,197.72Z" fill="#007f00" fill-rule="evenodd"/>
<path d="M188.51,204.80L190.10,208.92L194.50,209.15L191.08,211.93L192.21,216.20L188.51,213.80L184.81,216.20L185.94,211.93L182.52,209.15L186.92,208.92ZM187.84,210.18L185.99,210.28L187.43,211.45L186.95,213.24L188.51,212.23L190.07,213.24L189.59,211.45L191.03,210.28L189.18,210.18L188.51,208.45Z" fill="#007f00" fill-rule="evenodd"/>
<path d="M210.42,213.25L212.01,217.37L216.41,217.60L212.99,220.38L214.12,224.65L210.42,222.25L206.72,224.65L207.85,220.38L204.43,217.60L208.83,217.37ZM209.75,218.63L207.90,218.73L209.34,219.90L208.86,221.69L210.42,220.68L211.98,221.69L211.50,219.90L212.94,218.73L211.09,218.63L210.42,216.90Z" fill="#007f00" fill-rule="evenodd"/>
<path d="M235.46,218.53L237.05,222.65L241.45,222.89L238.03,225.67L239.16,229.93L235.46,227.53L231.76,229.93L232.89,225.67L229.47,222.89L233.87,222.65ZM234.79,223.92L232.94,224.02L234.38,225.18L233.90,226.98L235.46,225.97L237.02,226.98L236.54,225.18L237.98,224.02L236.13,223.92L235.46,222.19Z" fill="#007f00" fill-rule="evenodd"/>
<path d="M260.50,232.97L262.09,237.09L266.49,237.33L263.07,240.11L264.20,244.37L260.50,241.97L256.80,244.37L257.93,240.11L254.51,237.33L258.91,237.09ZM259.83,238.36L257.98,238.46L259.42,239.62L258.94,241.41L260.50,240.41L262.06,241.41L261.58,239.62L263.02,238.46L261.17,238.36L260.50,236.63Z" fill="#007f00" fill-rule="evenodd"/>
<path d="M288.67,231.78L290.26,235.90L294.66,236.14L291.24,238.92L292.37,243.18L288.67,240.78L284.97,243.18L286.10,238.92L282.68,236.14L287.08,235.90ZM288.00,237.17L286.15,237.27L287.59,238.43L287.11,240.22L288.67,239.22L290.23,240.22L289.75,238.43L291.19,237.27L289.34,237.17L288.67,235.44Z" fill="#007f00" fill-rule="evenodd"/>
<path d="M319.97,242.39L321.56,246.51L325.96,246.74L322.54,249.52L323.67,253.79L319.97,251.39L316.27,253.79L317.40,249.52L313.98,246.74L318.38,246.51ZM319.30,247.77L317.45,247.87L318.89,249.04L318.41,250.83L319.97,249.82L321.53,250.83L321.05,249.04L322.49,247.87L320.64,247.77L319.97,246.04Z" fill="#007f00" fill-rule="evenodd"/>
<path d="M351.27,257.92L352.86,262.03L357.26,262.27L353.84,265.05L354.97,269.31L351.27,266.92L347.57,269.31L348.70,265.05L345.28,262.27L349.68,262.03ZM350.60,263.30L348.75,263.40L350.19,264.57L349.71,266.36L351.27,265.35L352.83,266.36L352.35,264.57L353.79,263.40L351.94,263.30L351.27,261.57Z" fill="#007f00" fill-rule="evenodd"/>
<path d="M385.70,274.15L387.29,278.27L391.69,278.51L388.27,281.29L389.40,285.55L385.70,283.15L382.00,285.55L383.13,281.29L379.71,278.51L384.11,278.27ZM385.03,279.54L383.18,279.64L384.62,280.80L384.14,282.59L385.70,281.59L387.26,282.59L386.78,280.80L388.22,279.64L386.37,279.54L385.70,277.81Z" fill="#007f00" fill-rule="evenodd"/>
<path d="M423.26,293.65L424.85,297.76L429.25,298.00L425.83,300.78L426.96,305.04L423.26,302.65L419.56,305.04L420.69,300.78L417.27,298.00L421.67,297.76ZM422.59,299.03L420.74,299.13L422.18,300.30L421.70,302.09L423.26,301.08L424.82,302.09L424.34,300.30L425.78,299.13L423.93,299.03L423.26,297.30Z" fill="#007f00" fill-rule="evenodd"/>
<path d="M460.82,332.87L462.41,336.99L466.81,337.22L463.39,340.01L464.52,344.27L460.82,341.87L457.12,344.27L458.25,340.01L454.83,337.22L459.23,336.99ZM460.15,338.25L458.30,338.35L459.74,339.52L459.26,341.31L460.82,340.31L462.38,341.31L461.90,339.52L463.34,338.35L461.49,338.25L460.82,336.53Z" fill="#007f00" fill-rule="evenodd"/>
<path d="M604.80,489.23L606.39,493.35L610.79,493.58L607.37,496.37L608.50,500.63L604.80,498.23L601.10,500.63L602.23,496.37L598.81,493.58L603.21,493.35ZM604.13,494.61L602.28,494.71L603.72,495.88L603.24,497.67L604.80,496.66L606.36,497.67L605.88,495.88L607.32,494.71L605.47,494.61L604.80,492.88Z" fill="#007f00" fill-rule="evenodd"/>
<path d="M122.78,792.50L124.37,796.62L128.77,796.85L125.35,799.63L126.48,803.90L122.78,801.50L119.08,803.90L120.21,799.63L116.79,796.85L121.19,796.62ZM122.11,797.88L120.26,797.98L121.70,799.15L121.22,800.94L122.78,799.93L124.34,800.94L123.86,799.15L125.30,797.98L123.45,797.88L122.78,796.15Z" fill="#007f00" fill-rule="evenodd"/>
<path d="M150.95,792.50L152.54,796.62L156.94,796.85L153.52,799.63L154.65,803.90L150.95,801.50L147.25,803.90L148.38,799.63L144.96,796.85L149.36,796.62ZM150.28,797.88L148.43,797.98L149.87,799.15L149.39,800.94L150.95,799.93L152.51,800.94L152.03,799.15L153.47,797.98L151.62,797.88L150.95,796.15Z" fill="#007f00" fill-rule="evenodd"/>
<path d="M169.73,771.50L171.32,775.62L175.72,775.85L172.30,778.63L173.43,782.90L169.73,780.50L166.03,782.90L167.16,778.63L163.74,775.85L168.14,775.62ZM169.06,776.88L167.21,776.98L168.65,778.15L168.17,779.94L169.73,778.93L171.29,779.94L170.81,778.15L172.25,776.98L170.40,776.88L169.73,775.15Z" fill="#007f00" fill-rule="evenodd"/>
<path d="M188.51,789.50L190.10,793.62L194.50,793.85L191.08,796.63L192.21,800.90L188.51,798.50L184.81,800.90L185.94,796.63L182.52,793.85L186.92,793.62ZM187.84,794.88L185.99,794.98L187.43,796.15L186.95,797.94L188.51,796.93L190.07,797.94L189.59,796.15L191.03,794.98L189.18,794.88L188.51,793.15Z" fill="#007f00" fill-rule="evenodd"/>
<path d="M210.42,792.90L212.01,797.02L216.41,797.25L212.99,800.03L214.12,804.30L210.42,801.90L206.72,804.30L207.85,800.03L204.43,797.25L208.83,797.02ZM209.75,798.28L207.90,798.38L209.34,799.55L208.86,801.34L210.42,800.33L211.98,801.34L211.50,799.55L212.94,798.38L211.09,798.28L210.42,796.55Z" fill="#007f00" fill-rule="evenodd"/>
<path d="M235.46,793.20L237.05,797.32L241.45,797.55L238.03,800.33L239.16,804.60L235.46,802.20L231.76,804.60L232.89,800.33L229.47,797.55L233.87,797.32ZM234.79,798.58L232.94,798.68L234.38,799.85L233.90,801.64L235.46,800.63L237.02,801.64L236.54,799.85L237.98,798.68L236.13,798.58L235.46,796.85Z" fill="#007f00" fill-rule="evenodd"/>
<path d="M260.50,817.30L262.09,821.42L266.49,821.65L263.07,824.43L264.20,828.70L260.50,826.30L256.80,828.70L257.93,824.43L254.51,821.65L258.91,821.42ZM259.83,822.68L257.98,822.78L259.42,823.95L258.94,825.74L260.50,824.73L262.06,825.74L261.58,823.95L263.02,822.78L261.17,822.68L260.50,820.95Z" fill="#007f00" fill-rule="evenodd"/>
<path d="M288.67,780.50L290.26,784.62L294.66,784.85L291.24,787.63L292.37,791.90L288.67,789.50L284.97,791.90L286.10,787.63L282.68,784.85L287.08,784.62ZM288.00,785.88L286.15,785.98L287.59,787.15L287.11,788.94L288.67,787.93L290.23,788.94L289.75,787.15L291.19,785.98L289.34,785.88L288.67,784.15Z" fill="#007f00" fill-rule="evenodd"/>
<path d="M319.97,784.10L321.56,788.22L325.96,788.45L322.54,791.23L323.67,795.50L319.97,793.10L316.27,795.50L317.40,791.23L313.98,788.45L318.38,788.22ZM319.30,789.48L317.45,789.58L318.89,790.75L318.41,792.54L319.97,791.53L321.53,792.54L321.05,790.75L322.49,789.58L320.64,789.48L319.97,787.75Z" fill="#007f00" fill-rule="evenodd"/>
<path d="M351.27,786.70L352.86,790.82L357.26,791.05L353.84,793.83L354.97,798.10L351.27,795.70L347.57,798.10L348.70,793.83L345.28,791.05L349.68,790.82ZM350.60,792.08L348.75,792.18L350.19,793.35L349.71,795.14L351.27,794.13L352.83,795.14L352.35,793.35L353.79,792.18L351.94,792.08L351.27,790.35Z" fill="#007f00" fill-rule="evenodd"/>
<path d="M385.70,785.40L387.29,789.52L391.69,789.75L388.27,792.53L389.40,796.80L385.70,794.40L382.00,796.80L383.13,792.53L379.71,789.75L384.11,789.52ZM385.03,790.78L383.18,790.88L384.62,792.05L384.14,793.84L385.70,792.83L387.26,793.84L386.78,792.05L388.22,790.88L386.37,790.78L385.70,789.05Z" fill="#007f00" fill-rule="evenodd"/>
<path d="M423.26,772.50L424.85,776.62L429.25,776.85L425.83,779.63L426.96,783.90L423.26,781.50L419.56,783.90L420.69,779.63L417.27,776.85L421.67,776.62ZM422.59,777.88L420.74,777.98L422.18,779.15L421.70,780.94L423.26,779.93L424.82,780.94L424.34,779.15L425.78,777.98L423.93,777.88L423.26,776.15Z" fill="#007f00" fill-rule="evenodd"/>
<path d="M460.82,819.80L462.41,823.92L466.81,824.15L463.39,826.93L464.52,831.20L460.82,828.80L457.12,831.20L458.25,826.93L454.83,824.15L459.23,823.92ZM460.15,825.18L458.30,825.28L459.74,826.45L459.26,828.24L460.82,827.23L462.38,828.24L461.90,826.45L463.34,825.28L461.49,825.18L460.82,823.45Z" fill="#007f00" fill-rule="evenodd"/>
<path d="M604.80,772.80L606.39,776.92L610.79,777.15L607.37,779.93L608.50,784.20L604.80,781.80L601.10,784.20L602.23,779.93L598.81,777.15L603.21,776.92ZM604.13,778.18L602.28,778.28L603.72,779.45L603.24,781.24L604.80,780.23L606.36,781.24L605.88,779.45L607.32,778.28L605.47,778.18L604.80,776.45Z" fill="#007f00" fill-rule="evenodd"/>
<rect x="147.9" y="481.7" width="10.9" height="10.9" fill="#000"/>
<text transform="translate(187.00,493.00) scale(1,1.05)" font-family="&apos;Liberation Sans&apos;, sans-serif" font-size="19" text-anchor="start" fill="#000" stroke="#000" stroke-width="0.12">CMS</text>
<path d="M128.6 513.05L174.6 513.05" stroke="#ff7b30" stroke-width="1.8" stroke-dasharray="7 4 2 4" fill="none"/>
<rect x="149.05" y="509.05" width="8" height="8" fill="#ff7b30"/>
<text transform="translate(187.00,518.60) scale(1,1.05)" font-family="&apos;Liberation Sans&apos;, sans-serif" font-size="19" text-anchor="start" fill="#000" stroke="#000" stroke-width="0.12">Pythia 6.423 default</text>
<path d="M128.6 538.8L176.2 538.8" stroke="#007f00" stroke-width="1.6" stroke-dasharray="2 2.2" fill="none"/>
<path d="M152.95,533.00L154.54,537.12L158.94,537.35L155.52,540.13L156.65,544.40L152.95,542.00L149.25,544.40L150.38,540.13L146.96,537.35L151.36,537.12ZM152.28,538.38L150.43,538.48L151.87,539.65L151.39,541.44L152.95,540.43L154.51,541.44L154.03,539.65L155.47,538.48L153.62,538.38L152.95,536.65Z" fill="#007f00" fill-rule="evenodd"/>
<text transform="translate(187.00,544.20) scale(1,1.05)" font-family="&apos;Liberation Sans&apos;, sans-serif" font-size="19" text-anchor="start" fill="#000" stroke="#000" stroke-width="0.12">Pythia 6.423 pro-q2o</text>
</svg></body></html>
